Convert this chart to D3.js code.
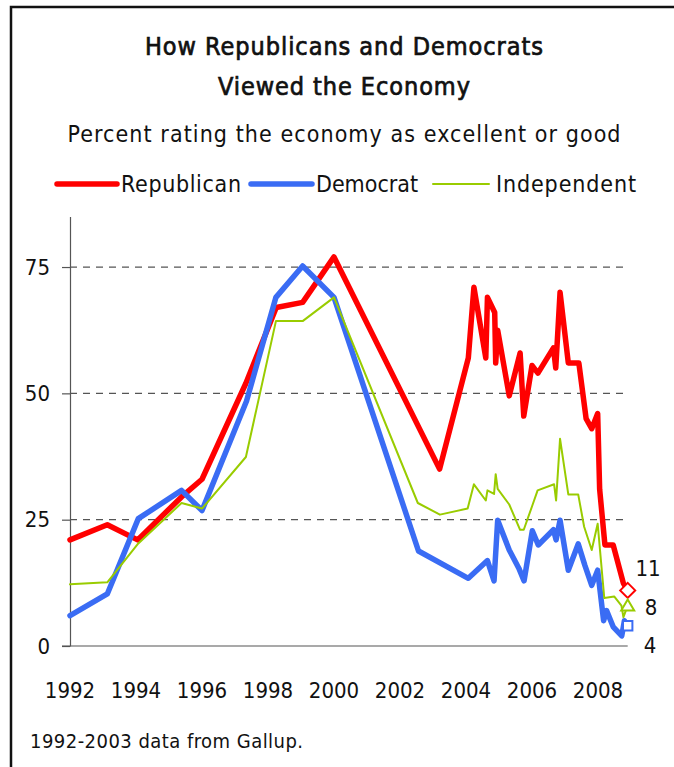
<!DOCTYPE html>
<html>
<head>
<meta charset="utf-8">
<script src="https://cdn.jsdelivr.net/npm/d3@7"></script>
<style>
  body { margin: 0; background: #fff; }
  svg { display: block; }
  text { font-family: "Liberation Sans Narrow", "DejaVu Sans Condensed", "Liberation Sans", Arial, sans-serif; font-stretch: condensed; fill: #111; }
</style>
</head>
<body>
<svg id="chart" width="674" height="767"></svg>
<script>
// Survey dates (decimal years) and percent rating the economy excellent/good
const republicanDates = [1992.0, 1993.13, 1994.05, 1995.38, 1996.0, 1997.33, 1998.25, 1999.05, 2000.0,
  2003.2, 2004.07, 2004.24, 2004.6, 2004.65, 2004.87, 2004.9, 2004.96, 2005.31, 2005.64, 2005.75,
  2006.0, 2006.18, 2006.65, 2006.72, 2006.85, 2007.1, 2007.42, 2007.64, 2007.81, 2007.99,
  2008.05, 2008.21, 2008.46, 2008.77, 2008.9];
const republicanValues = [21, 24, 21, 29.5, 33, 52, 67, 68, 77,
  35, 57, 71, 57, 69, 66, 56, 62.5, 49.5, 58, 45.5,
  55.5, 54, 59, 55, 70, 56, 56, 45, 43, 46,
  31, 20, 20, 12.4, 11];

const democratDates = [1992.0, 1993.13, 1994.07, 1995.38, 1996.0, 1997.35, 1998.24, 1999.05, 2000.0,
  2002.56, 2004.07, 2004.65, 2004.85, 2004.96, 2005.31, 2005.6, 2005.76, 2006.01, 2006.19,
  2006.65, 2006.73, 2006.85, 2007.1, 2007.4, 2007.6, 2007.81, 2007.99,
  2008.17, 2008.26, 2008.46, 2008.72, 2008.8, 2008.9];
const democratValues = [6, 10.3, 25.2, 30.8, 26.8, 48.5, 69, 75.2, 69,
  18.8, 13.4, 16.9, 12.9, 24.9, 19, 15.4, 12.9, 22.8, 20,
  23, 21, 24.9, 15, 20.2, 16, 12, 15,
  5, 7, 3.8, 2, 5, 4];

const independentDates = [1992.0, 1993.13, 1994.07, 1995.38, 1996.0, 1997.33, 1998.24, 1999.05, 2000.0,
  2002.54, 2003.21, 2004.05, 2004.24, 2004.6, 2004.65, 2004.85, 2004.9, 2004.96, 2005.31,
  2005.64, 2005.75, 2006.01, 2006.17, 2006.67, 2006.73, 2006.85, 2007.1, 2007.4, 2007.58,
  2007.81, 2007.99, 2008.19, 2008.49, 2008.71, 2008.77, 2008.9];
const independentValues = [12.2, 12.6, 20.3, 28.3, 27.2, 37.4, 64.3, 64.3, 69,
  28.3, 26, 27.2, 32, 28.8, 30.8, 30.1, 34, 31.1, 28,
  23, 23, 27.8, 30.8, 32, 28.8, 41, 30, 30, 23.6,
  19, 24.2, 9.5, 9.8, 8, 5.7, 8];

const seriesNames = ["Republican", "Democrat", "Independent"];
const seriesColors = ["#ff0000", "#3a6cf4", "#99cc00"];
const seriesWidths = [5.5, 5.5, 2];
const latestLabels = ["11", "8", "4"];

const yTicks = [0, 25, 50, 75];
const xTickYears = [1992, 1994, 1996, 1998, 2000, 2002, 2004, 2006, 2008];

const svg = d3.select("#chart");

// frame
svg.append("rect").attr("x", 11).attr("y", 7).attr("width", 700).attr("height", 800)
  .attr("fill", "none").attr("stroke", "#111").attr("stroke-width", 2.5);

// headings (title set in a medium weight: regular face with a thin outline)
function fitText(sel, len) { return sel.attr("textLength", len).attr("lengthAdjust", "spacing"); }
fitText(svg.append("text").attr("x", 344).attr("y", 55).attr("text-anchor", "middle")
  .attr("font-size", 25).attr("stroke", "#111").attr("stroke-width", 0.7)
  .text("How Republicans and Democrats"), 398);
fitText(svg.append("text").attr("x", 344).attr("y", 95).attr("text-anchor", "middle")
  .attr("font-size", 25).attr("stroke", "#111").attr("stroke-width", 0.7)
  .text("Viewed the Economy"), 252);
fitText(svg.append("text").attr("x", 344).attr("y", 142).attr("text-anchor", "middle")
  .attr("font-size", 23).text("Percent rating the economy as excellent or good"), 553);

const xMin = 1992, xMax = d3.max(republicanDates);
const x = d3.scaleLinear().domain([1992, 2009]).range([70, 631]);
const y = d3.scaleLinear().domain([0, 85]).range([646, 216.5]);

// legend
const legendItems = [
  { x0: 57, x1: 117, tx: 121, w: 120 },
  { x0: 251, x1: 312, tx: 316, w: 102 },
  { x0: 433, x1: 489, tx: 496, w: 140 }
];
const legend = svg.append("g");
legendItems.forEach((it, i) => {
  legend.append("line").attr("x1", it.x0).attr("x2", it.x1).attr("y1", 184).attr("y2", 184)
    .attr("stroke", seriesColors[i]).attr("stroke-width", seriesWidths[i]).attr("stroke-linecap", "round");
  fitText(legend.append("text").attr("x", it.tx).attr("y", 192).attr("font-size", 23).text(seriesNames[i]), it.w);
});

// gridlines
svg.append("g").selectAll("line").data(yTicks.filter(d => d > 0)).join("line")
  .attr("x1", x(xMin)).attr("x2", x(xMax))
  .attr("y1", d => y(d)).attr("y2", d => y(d))
  .attr("stroke", "#555").attr("stroke-width", 1.2).attr("stroke-dasharray", "7,6");

// y axis
const yAxis = svg.append("g").attr("transform", `translate(${x(xMin)},0)`)
  .call(d3.axisLeft(y).tickValues(yTicks).tickSize(8).tickSizeOuter(0).tickPadding(12));
yAxis.select(".domain").attr("stroke", "#555").attr("stroke-width", 1.2);
yAxis.selectAll(".tick line").attr("stroke", "#555").attr("stroke-width", 1.2);
yAxis.selectAll(".tick text").attr("font-size", 22).attr("font-family", null).attr("fill", "#111");

// x axis baseline
svg.append("line").attr("x1", x(xMin) - 8).attr("x2", x(xMax)).attr("y1", y(0)).attr("y2", y(0))
  .attr("stroke", "#555").attr("stroke-width", 1.2);
svg.append("g").selectAll("text").data(xTickYears).join("text")
  .attr("x", d => x(d)).attr("y", 698).attr("text-anchor", "middle").attr("font-size", 22)
  .text(d => d);

// lines
const series = [
  republicanDates.map((d, i) => [d, republicanValues[i]]),
  democratDates.map((d, i) => [d, democratValues[i]]),
  independentDates.map((d, i) => [d, independentValues[i]])
];
const line = d3.line().x(d => x(d[0])).y(d => y(d[1]));
svg.append("g").selectAll("path").data(series).join("path")
  .attr("d", line).attr("fill", "none")
  .attr("stroke", (d, i) => seriesColors[i])
  .attr("stroke-width", (d, i) => seriesWidths[i])
  .attr("stroke-linejoin", "round").attr("stroke-linecap", "round");

// latest-reading markers
const lastPts = series.map(s => s[s.length - 1]);
const markerPaths = [
  "M0,-7.5L7.5,0L0,7.5L-7.5,0Z",
  "M-4.7,-4.7H4.7V4.7H-4.7Z",
  "M0,-6L6.5,5H-6.5Z"
];
svg.append("g").selectAll("path").data(lastPts).join("path")
  .attr("transform", d => `translate(${x(d[0])},${y(d[1])})`)
  .attr("d", (d, i) => markerPaths[i])
  .attr("fill", "#fff")
  .attr("stroke", (d, i) => seriesColors[i]).attr("stroke-width", 2);

// value labels beside markers
const labelY = [y(lastPts[0][1]) - 22, y(lastPts[2][1]) + 2, y(0) - 1];
const labelX = [648, 651, 650];
svg.append("g").selectAll("text").data(latestLabels).join("text")
  .attr("x", (d, i) => labelX[i]).attr("y", (d, i) => labelY[i]).attr("dy", "0.35em")
  .attr("text-anchor", "middle").attr("font-size", 22).text(d => d);

// source note
fitText(svg.append("text").attr("x", 30).attr("y", 748).attr("font-size", 20)
  .text("1992-2003 data from Gallup."), 273);
</script>
</body>
</html>
